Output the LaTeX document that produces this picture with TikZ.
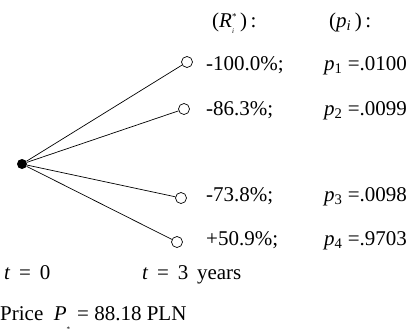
\documentclass[tikz,border=0pt]{standalone}
\usepackage{fontspec}
\setmainfont{Liberation Serif}
\usetikzlibrary{positioning}

\begin{document}
\begin{tikzpicture}[
    x=1pt, y=-1pt,
    font=\fontsize{21}{25}\selectfont,
    root/.style={circle, fill=black, inner sep=0pt, minimum size=10pt},
    leaf/.style={circle, draw, fill=white, inner sep=0pt, minimum size=11pt, line width=0.7pt},
    branch/.style={line width=0.7pt},
    txt/.style={anchor=base west, inner sep=0pt}
  ]
  \useasboundingbox (0,0) rectangle (411,332);

  % Tree
  \node[root] (r0) at (22,164) {};
  \node[leaf] (l1) at (187,62) {};
  \node[leaf] (l2) at (184,109) {};
  \node[leaf] (l3) at (181,198) {};
  \node[leaf] (l4) at (177,242) {};

  \draw[branch] (r0) -- (l1);
  \draw[branch] (r0) -- (l2);
  \draw[branch] (r0) -- (l3);
  \draw[branch] (r0) -- (l4);

  % Headers
  \node[txt] (hR) at (212,27) {(\textit{R}\rlap{\raisebox{-0.3em}{\scriptsize\textit{i}}}\raisebox{0.35em}{\small *}\,)\,:};
  \node[txt] (hp) at (329,27) {(\textit{p}\textsubscript{\textit{i}}\,)\,:};

  % Returns
  \node[txt] (v1) at (206,70) {-100.0\%;};
  \node[txt] (v2) at (206,115) {-86.3\%;};
  \node[txt] (v3) at (206,201) {-73.8\%;};
  \node[txt] (v4) at (206,245) {+50.9\%;};

  % Probabilities
  \node[txt] (q1) at (324,70) {\textit{p}\textsubscript{1} =.0100};
  \node[txt] (q2) at (324,115) {\textit{p}\textsubscript{2} =.0099};
  \node[txt] (q3) at (324,201) {\textit{p}\textsubscript{3} =.0098};
  \node[txt] (q4) at (324,245) {\textit{p}\textsubscript{4} =.9703};

  % Time axis and price
  \node[txt] (t0) at (4,279) {\textit{t}\, = \,0};
  \node[txt] (t3) at (142,279) {\textit{t}\, = \,3\, years};
  \node[txt] (pr) at (0,320) {Price\ \ \textit{P}\rlap{\raisebox{-0.55em}{\scriptsize *}}\ \ = 88.18 PLN};
\end{tikzpicture}
\end{document}
